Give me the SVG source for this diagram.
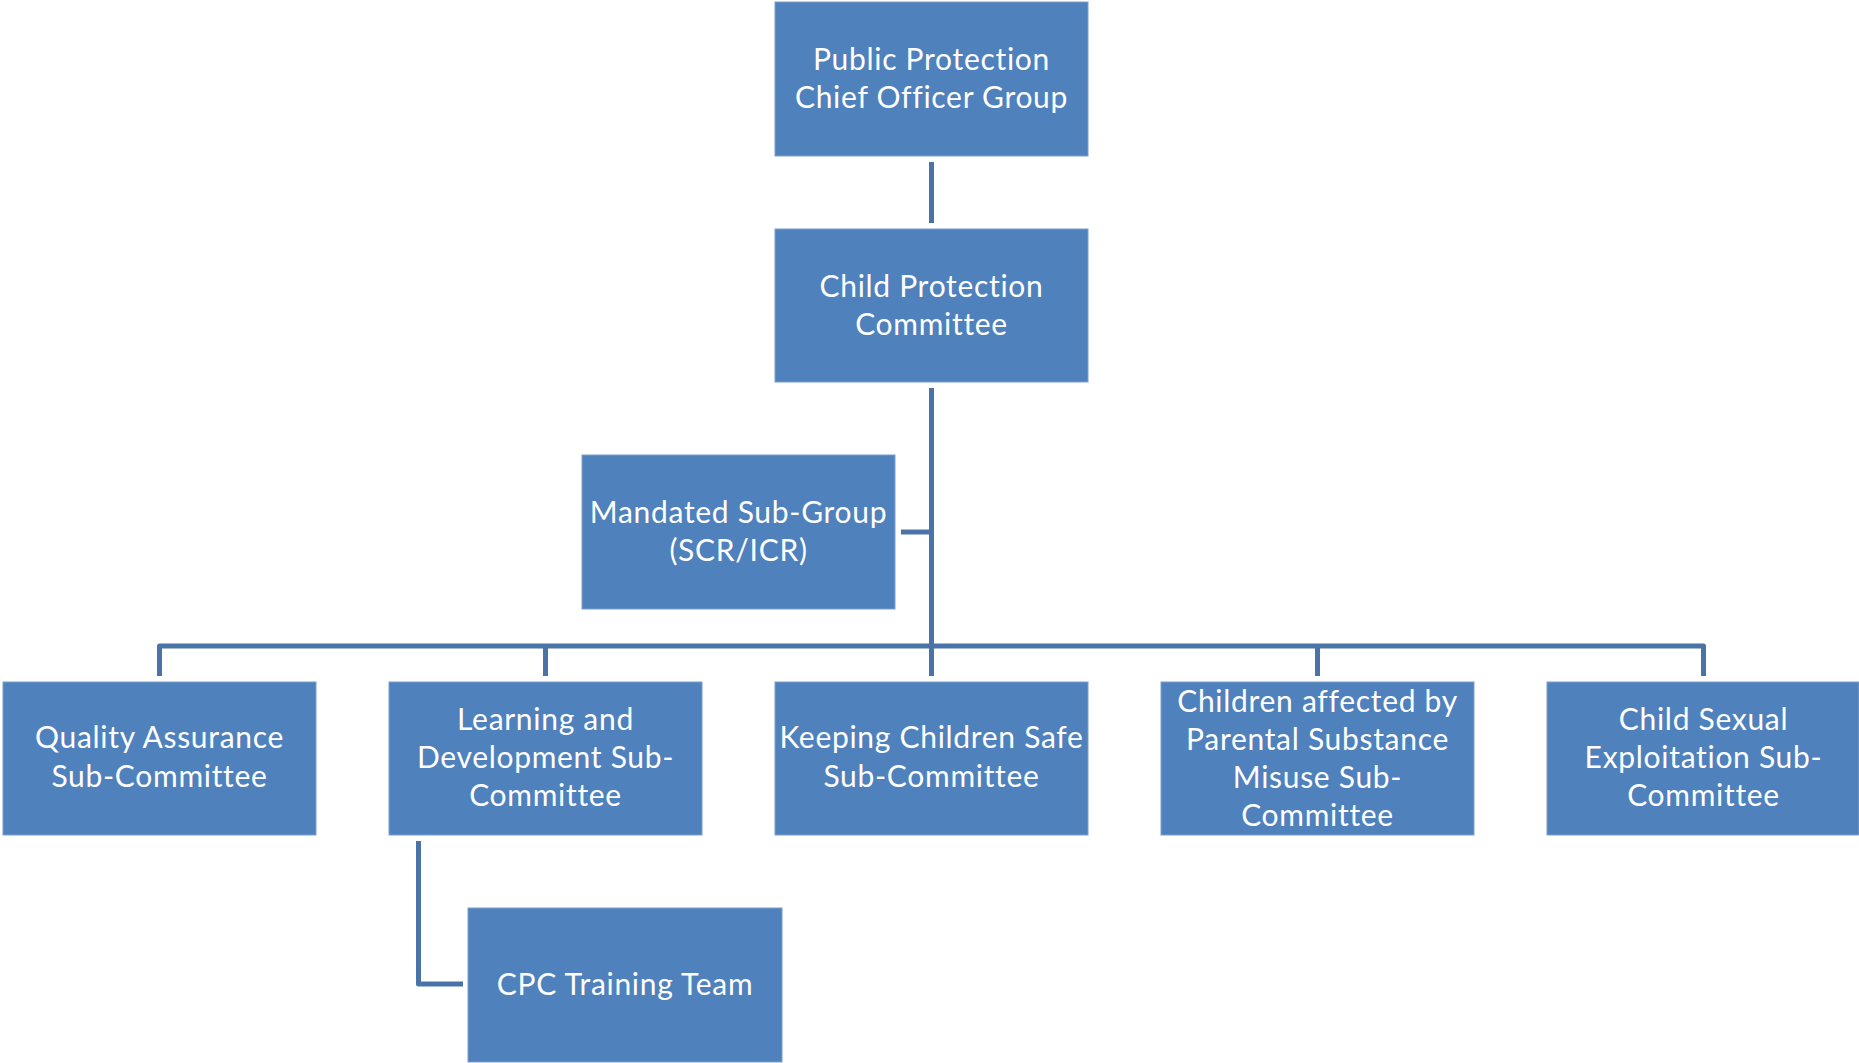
<svg xmlns="http://www.w3.org/2000/svg" width="1859" height="1063" viewBox="0 0 1859 1063">
<style>
.box{fill:#4F81BD;stroke:#7A9FCC;stroke-width:1}
.t{font-family:Lato,"Open Sans","Liberation Sans",sans-serif;font-size:30px;letter-spacing:0.7px;fill:#FFFFFF;text-anchor:middle}
.c{fill:none;stroke:#4A74A8;stroke-width:5;stroke-linejoin:round}
</style>
<rect width="1859" height="1063" fill="#FFFFFF"/>
<g id="connectors">
<path class="c" d="M931.5,162 V223"/>
<path class="c" d="M931.5,388 V676"/>
<path class="c" d="M901,532 H931.5"/>
<path class="c" d="M159.5,676 V646 H1703.5 V676"/>
<path class="c" d="M545.5,646 V676"/>
<path class="c" d="M1317.5,646 V676"/>
<path class="c" d="M418.5,841 V984 H463"/>
</g>
<g id="node-ppcog">
<rect class="box" x="775" y="2" width="313" height="154"/>
<text class="t" x="931.5" y="70">Public Protection</text>
<text class="t" x="931.5" y="108">Chief Officer Group</text>
</g>
<g id="node-cpc">
<rect class="box" x="775" y="229" width="313" height="153"/>
<text class="t" x="931.5" y="297">Child Protection</text>
<text class="t" x="931.5" y="335">Committee</text>
</g>
<g id="node-msg">
<rect class="box" x="582" y="455" width="313" height="154"/>
<text class="t" x="738.5" y="523">Mandated Sub-Group</text>
<text class="t" x="738.5" y="561">(SCR/ICR)</text>
</g>
<g id="node-qa">
<rect class="box" x="3" y="682" width="313" height="153"/>
<text class="t" x="159.5" y="748">Quality Assurance</text>
<text class="t" x="159.5" y="787">Sub-Committee</text>
</g>
<g id="node-ld">
<rect class="box" x="389" y="682" width="313" height="153"/>
<text class="t" x="545.5" y="730">Learning and</text>
<text class="t" x="545.5" y="768">Development Sub-</text>
<text class="t" x="545.5" y="806">Committee</text>
</g>
<g id="node-kcs">
<rect class="box" x="775" y="682" width="313" height="153"/>
<text class="t" x="931.5" y="748">Keeping Children Safe</text>
<text class="t" x="931.5" y="787">Sub-Committee</text>
</g>
<g id="node-cpsm">
<rect class="box" x="1161" y="682" width="313" height="153"/>
<text class="t" x="1317.5" y="712">Children affected by</text>
<text class="t" x="1317.5" y="750">Parental Substance</text>
<text class="t" x="1317.5" y="788">Misuse Sub-</text>
<text class="t" x="1317.5" y="826">Committee</text>
</g>
<g id="node-cse">
<rect class="box" x="1547" y="682" width="312" height="153"/>
<text class="t" x="1703.5" y="730">Child Sexual</text>
<text class="t" x="1703.5" y="768">Exploitation Sub-</text>
<text class="t" x="1703.5" y="806">Committee</text>
</g>
<g id="node-cpctt">
<rect class="box" x="468" y="908" width="314" height="154"/>
<text class="t" x="625" y="995">CPC Training Team</text>
</g>
</svg>
